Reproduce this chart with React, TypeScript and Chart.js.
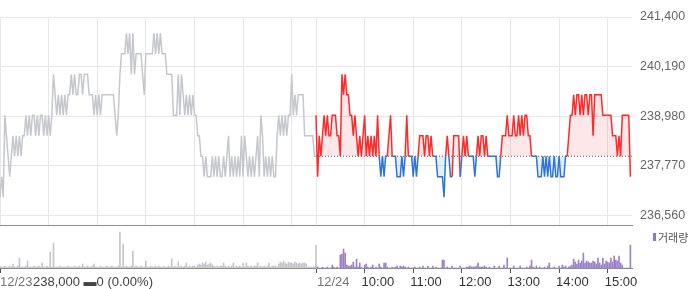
import React, { useEffect, useRef } from 'react';
import { Chart, registerables } from 'chart.js';
Chart.register(...registerables);

const BASE_PRICE = 238000;
const STEP_MIN = 2;
const SESSION_MIN = 390;
const Y_MIN = 236320;
const Y_MAX = 241400;
const yTickValues = [236560, 237770, 238980, 240190, 241400];
const gridMinutes = [0, 60, 120, 180, 240, 300, 360, 390, 450, 510, 570, 630, 690, 750];
const axisTickMinutes = [0, 390, 450, 510, 570, 630, 690, 750];
const axisLabels = ['12/23', '12/24', '10:00', '11:00', '12:00', '13:00', '14:00', '15:00'];
const infoText = '238,000 ▬0 (0.00%)';
const legendText = '거래량';

const day1Price = [
  237000,237500,237000,239000,238500,238000,237500,238000,238500,238000,
  238500,238000,238500,238000,238500,238500,239000,238500,239000,238500,
  239000,239000,238500,239000,238500,239000,239000,238500,239000,238500,
  239000,238500,239000,240000,239500,239000,239500,239000,239500,239000,
  239500,239000,239500,239500,240000,239500,240000,239500,239500,240000,
  240000,239500,240000,240000,240000,239500,239500,239500,239000,239500,
  239000,239500,239000,239500,239500,239500,239500,239500,239500,239500,
  239500,239000,238500,239000,240000,240500,240500,240500,241000,240500,
  241000,240000,241000,240000,240500,240500,240500,240500,240000,239500,
  240500,240500,240500,240500,240500,241000,240500,241000,240500,241000,
  240500,240500,240500,240000,240000,240000,240000,239000,239000,239000,
  240000,239000,240000,239500,239000,239500,239000,239500,239000,239500,
  239000,239000,238500,238500,238000,238000,237500,238000,237500,237500,
  237500,238000,237500,238000,237500,238000,237500,237500,238000,237500,
  238000,238500,237500,238000,237500,238000,237500,238000,237500,238500,
  237500,238500,238000,237500,238000,237500,238000,237500,238000,238500,
  237500,239000,238500,237500,238000,237500,238000,237500,238000,237500,
  237500,238500,239000,238500,239000,238500,239000,238500,239000,239000,
  240000,239000,239500,239000,239500,239500,239500,239500,238500,238500,
  238500,238500,238500,238500,238000,238000,
];

const day2Price = [
  239000,237500,238500,238000,238500,239000,238500,239000,238500,238500,
  239000,239000,239000,238500,238500,238000,240000,239500,240000,239500,
  239500,239000,239000,238500,239000,238500,238000,238500,238000,238500,
  239000,238000,238500,238000,238500,238000,238500,238000,239000,238000,
  237500,238000,237500,238000,238000,238500,239000,238000,238000,238000,
  237500,237500,237500,238000,237500,238000,239000,238000,238000,238000,
  237500,238000,237500,238000,238500,238500,238500,238000,238500,238500,
  238000,238500,238000,238000,238000,237500,237500,237500,237500,237000,
  238000,238500,238000,237500,237500,238500,238500,238500,238500,237500,
  238000,238500,238000,238500,238000,238000,238000,238000,237500,238000,
  238500,238000,238500,238500,238000,238500,238000,238000,238000,238000,
  238000,238000,237500,237500,238000,238500,238500,238500,239000,238500,
  238500,238500,239000,238500,238500,239000,238500,239000,238500,239000,
  239000,238500,238500,238000,238000,238000,238000,237500,237500,237500,
  238000,237500,238000,237500,238000,237500,237500,238000,237500,237500,
  238000,237500,237500,237500,238000,238000,238500,239000,239000,239500,
  239000,239500,239500,239000,239500,239000,239500,239500,239000,239500,
  239500,238500,239500,239500,239500,239500,239500,239000,239000,239000,
  239000,239000,239000,238500,238500,238500,238000,238500,238000,239000,
  239000,239000,239000,239000,237500,
];

const day1Volume = [
  2,1,1,2,1,1,2,1,4,1,
  1,2,10,1,1,1,2,7,1,1,
  1,2,1,1,2,1,5,1,1,2,
  1,16,1,25,1,1,1,2,1,1,
  1,1,2,1,1,1,2,1,1,2,
  1,4,1,1,2,1,1,2,4,1,
  1,1,2,1,1,1,2,1,1,2,
  1,1,1,2,36,1,24,1,2,1,
  1,2,17,1,2,1,1,2,1,1,
  7,1,1,2,1,1,2,1,2,1,
  1,2,1,1,2,1,9,1,2,1,
  6,1,2,1,2,5,1,2,1,2,
  2,1,3,4,3,5,4,6,3,4,
  5,3,2,1,2,1,2,2,5,2,
  1,2,1,2,5,1,2,1,2,1,
  5,1,5,2,1,2,1,2,2,5,
  1,2,1,2,1,2,5,1,2,2,
  2,1,4,6,5,7,5,4,6,5,
  5,4,6,5,4,5,4,5,5,4,
  1,1,1,1,1,23,
];

const day2Volume = [
  2,1,0,0,1,0,0,1,0,0,
  3,1,0,1,0,13,14,19,15,3,
  2,2,3,6,1,9,1,5,1,0,
  3,4,1,0,1,3,0,1,0,4,
  1,0,5,5,1,0,0,1,0,1,
  2,0,2,1,2,1,0,1,0,0,
  0,1,0,0,1,0,2,0,0,2,
  0,0,2,0,1,0,0,0,8,8,
  0,1,0,0,2,0,0,0,0,2,
  0,0,0,1,1,2,1,1,1,2,
  5,1,1,1,2,1,0,1,0,0,
  2,0,0,2,0,0,3,0,10,0,
  0,0,2,0,0,0,2,0,0,0,
  1,0,2,8,1,0,2,0,1,0,
  0,1,0,2,5,0,0,1,0,0,
  2,0,3,1,2,0,1,2,3,9,
  6,4,8,5,7,15,5,7,6,5,
  5,7,6,4,10,5,3,10,4,7,
  6,5,10,6,12,8,7,12,5,3,
  0,0,0,0,23,
];

const RED = '#ff2a2a';
const BLUE = '#2f74d6';
const GRAY_LINE = '#c6c7cc';
const GRID = '#e7e7e7';
const FONT = '"Liberation Sans", Arial, sans-serif';

const xLabelPlugin = {
  id: 'xLabels',
  afterDraw(chart: any) {
    const { ctx } = chart;
    const xs = chart.scales.x;
    ctx.save();
    ctx.font = '13px ' + FONT;
    ctx.textBaseline = 'middle';
    ctx.textAlign = 'left';
    axisLabels.forEach((t, i) => {
      const m = axisTickMinutes[i];
      const isDate = t.includes('/');
      ctx.fillStyle = isDate ? '#777' : '#333';
      const px = xs.getPixelForValue(m) + (isDate ? (m === 0 ? 0 : 1) : -3);
      ctx.fillText(t, px, 56);
    });
    ctx.restore();
  },
};

export default function App() {
  const priceRef = useRef<HTMLCanvasElement>(null);
  const volRef = useRef<HTMLCanvasElement>(null);

  useEffect(() => {
    const pc = new Chart(priceRef.current as HTMLCanvasElement, {
      type: 'line',
      data: {
        datasets: [
          {
            data: day2Price.map((v, i) => ({ x: SESSION_MIN + i * STEP_MIN, y: v })),
            borderColor: RED,
            borderWidth: 1.5,
            pointRadius: 0,
            tension: 0,
            segment: {
              borderColor: (c: any) =>
                c.p0.parsed.y > BASE_PRICE || c.p1.parsed.y > BASE_PRICE ? RED : BLUE,
            },
            fill: {
              target: { value: BASE_PRICE },
              above: 'rgba(250,70,80,0.13)',
              below: 'rgba(47,116,214,0.12)',
            },
          } as any,
          {
            data: [
              { x: SESSION_MIN, y: BASE_PRICE },
              { x: SESSION_MIN * 2, y: BASE_PRICE },
            ],
            borderColor: '#555',
            borderWidth: 1,
            borderDash: [1, 2],
            pointRadius: 0,
            fill: false,
          },
          {
            data: day1Price.map((v, i) => ({ x: i * STEP_MIN, y: v })),
            borderColor: GRAY_LINE,
            borderWidth: 1.5,
            pointRadius: 0,
            tension: 0,
            fill: false,
          },
        ],
      },
      options: {
        animation: false,
        responsive: false,
        maintainAspectRatio: false,
        events: [],
        layout: { padding: { top: 17, left: 0, right: 0, bottom: 1 } },
        plugins: { legend: { display: false }, tooltip: { enabled: false } },
        scales: {
          x: {
            type: 'linear',
            min: 0,
            max: SESSION_MIN * 2,
            afterBuildTicks: (s: any) => {
              s.ticks = gridMinutes.map((v) => ({ value: v }));
            },
            afterFit: (s: any) => {
              s.height = 0;
              s.paddingLeft = 0;
              s.paddingRight = 0;
            },
            ticks: { display: false },
            grid: { color: GRID, drawTicks: false },
            border: { color: '#8c8c8c', width: 1 },
          },
          y: {
            position: 'right',
            min: Y_MIN,
            max: Y_MAX,
            afterBuildTicks: (s: any) => {
              s.ticks = yTickValues.map((v) => ({ value: v }));
            },
            afterFit: (s: any) => {
              s.width = 68;
              s.paddingTop = 0;
              s.paddingBottom = 0;
            },
            ticks: {
              callback: (v: any) => Number(v).toLocaleString('en-US'),
              color: '#666',
              font: { family: FONT, size: 12.5 },
              padding: 8,
            },
            grid: { color: GRID, drawTicks: false },
            border: { display: false },
          },
        },
      } as any,
    });

    const vc = new Chart(volRef.current as HTMLCanvasElement, {
      type: 'bar',
      data: {
        datasets: [
          {
            data: day1Volume.map((v, i) => ({ x: i * STEP_MIN, y: v })),
            backgroundColor: '#c5c6cb',
            barThickness: 1,
            grouped: false,
          } as any,
          {
            data: day2Volume.map((v, i) => ({ x: SESSION_MIN + i * STEP_MIN, y: v })),
            backgroundColor: '#9a82cb',
            barThickness: 1,
            grouped: false,
          } as any,
        ],
      },
      options: {
        animation: false,
        responsive: false,
        maintainAspectRatio: false,
        events: [],
        layout: { padding: { top: 2, left: 0, right: 68, bottom: 16 } },
        plugins: { legend: { display: false }, tooltip: { enabled: false } },
        scales: {
          x: {
            type: 'linear',
            offset: false,
            min: 0,
            max: SESSION_MIN * 2,
            afterBuildTicks: (s: any) => {
              s.ticks = axisTickMinutes.map((v) => ({ value: v }));
            },
            afterFit: (s: any) => {
              s.height = 5;
              s.paddingLeft = 0;
              s.paddingRight = 0;
            },
            ticks: { display: false },
            grid: { drawOnChartArea: false, drawTicks: true, tickLength: 5, color: '#555', offset: false },
            border: { color: '#8c8c8c', width: 1 },
          },
          y: { display: false, min: 0, max: 40 },
        },
      } as any,
      plugins: [xLabelPlugin],
    });

    return () => {
      pc.destroy();
      vc.destroy();
    };
  }, []);

  return (
    <div style={{ position: 'absolute', left: 0, top: 0, width: 700, height: 289, background: '#fff', overflow: 'hidden' }}>
      <canvas ref={priceRef} width={700} height={226} style={{ position: 'absolute', left: 0, top: 0 }} />
      <canvas ref={volRef} width={700} height={63} style={{ position: 'absolute', left: 0, top: 226 }} />
      <span
        style={{
          position: 'absolute',
          left: 33,
          top: 274,
          font: '13px "Liberation Sans", Arial, sans-serif',
          color: '#444',
          whiteSpace: 'nowrap',
          lineHeight: '16px',
        }}
      >
        {infoText}
      </span>
      <div
        style={{
          position: 'absolute',
          left: 653,
          top: 231,
          display: 'flex',
          alignItems: 'center',
          font: '11px "Noto Sans CJK KR", sans-serif',
          color: '#555',
          lineHeight: '12px',
        }}
      >
        <span style={{ display: 'inline-block', width: 3, height: 8, background: '#8e78c2', marginRight: 2 }} />
        <span>{legendText}</span>
      </div>
    </div>
  );
}
